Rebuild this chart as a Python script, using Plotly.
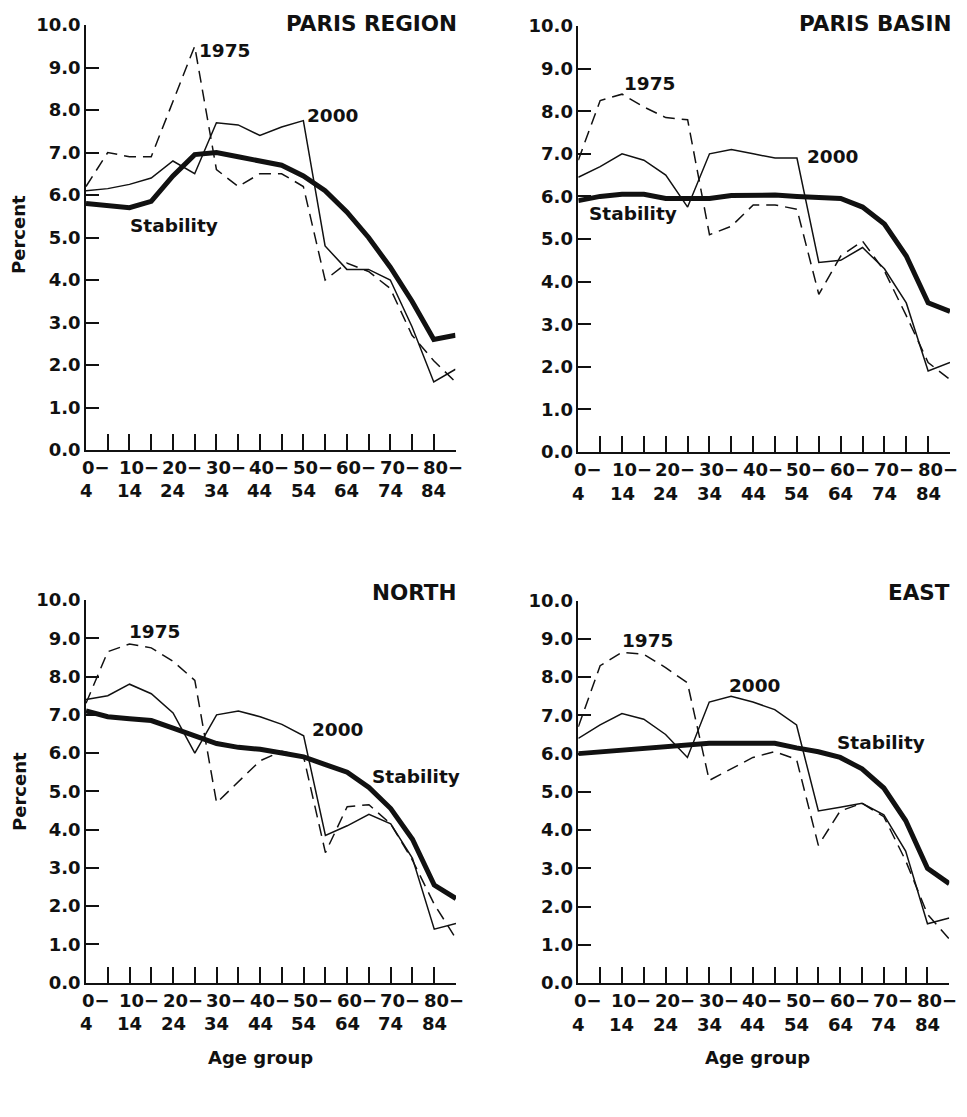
import plotly.graph_objects as go

# ---------------- data ----------------
age_index = list(range(18))  # 0-4, 5-9, ..., 80-84, 85+
age_top = ["0−", "10−", "20−", "30−", "40−", "50−", "60−", "70−", "80−"]
age_bottom = ["4", "14", "24", "34", "44", "54", "64", "74", "84"]
age_label_pos = [0, 2, 4, 6, 8, 10, 12, 14, 16]
y_ticks = [0, 1, 2, 3, 4, 5, 6, 7, 8, 9, 10]
y_tick_labels = ["0.0", "1.0", "2.0", "3.0", "4.0", "5.0", "6.0", "7.0", "8.0", "9.0", "10.0"]

regions = ["PARIS REGION", "PARIS BASIN", "NORTH", "EAST"]

paris_region_1975 = [6.2, 7.0, 6.9, 6.9, 8.2, 9.5, 6.6, 6.2, 6.5, 6.5, 6.2, 4.0, 4.4, 4.2, 3.8, 2.7, 2.1, 1.6]
paris_region_2000 = [6.1, 6.15, 6.25, 6.4, 6.8, 6.5, 7.7, 7.65, 7.4, 7.6, 7.75, 4.8, 4.25, 4.25, 4.0, 2.9, 1.6, 1.9]
paris_region_stab = [5.8, 5.75, 5.7, 5.85, 6.45, 6.95, 7.0, 6.9, 6.8, 6.7, 6.45, 6.1, 5.6, 5.0, 4.3, 3.5, 2.6, 2.7]

paris_basin_1975 = [6.85, 8.25, 8.4, 8.1, 7.85, 7.8, 5.1, 5.3, 5.8, 5.8, 5.7, 3.7, 4.6, 4.95, 4.25, 3.2, 2.1, 1.7]
paris_basin_2000 = [6.45, 6.7, 7.0, 6.85, 6.5, 5.75, 7.0, 7.1, 7.0, 6.9, 6.9, 4.45, 4.5, 4.8, 4.3, 3.5, 1.9, 2.1]
paris_basin_stab = [5.9, 6.0, 6.05, 6.05, 5.95, 5.95, 5.95, 6.02, 6.03, 6.03, 6.0, 5.97, 5.95, 5.75, 5.35, 4.6, 3.5, 3.3]

north_1975 = [7.3, 8.65, 8.85, 8.75, 8.4, 7.9, 4.7, 5.25, 5.8, 6.05, 5.9, 3.4, 4.6, 4.65, 4.15, 3.2, 2.05, 1.15]
north_2000 = [7.4, 7.5, 7.8, 7.55, 7.05, 6.0, 7.0, 7.1, 6.95, 6.75, 6.45, 3.85, 4.1, 4.4, 4.15, 3.25, 1.4, 1.55]
north_stab = [7.1, 6.95, 6.9, 6.85, 6.65, 6.45, 6.25, 6.15, 6.1, 6.0, 5.9, 5.7, 5.5, 5.1, 4.55, 3.75, 2.55, 2.2]

east_1975 = [6.7, 8.3, 8.65, 8.6, 8.25, 7.85, 5.3, 5.6, 5.9, 6.05, 5.85, 3.6, 4.5, 4.7, 4.35, 3.2, 1.8, 1.15]
east_2000 = [6.4, 6.75, 7.05, 6.9, 6.5, 5.9, 7.35, 7.5, 7.35, 7.15, 6.75, 4.5, 4.6, 4.7, 4.4, 3.45, 1.55, 1.7]
east_stab = [6.0, 6.05, 6.1, 6.15, 6.2, 6.25, 6.27, 6.27, 6.27, 6.27, 6.15, 6.05, 5.9, 5.6, 5.1, 4.25, 3.0, 2.6]

series_1975 = [paris_region_1975, paris_basin_1975, north_1975, east_1975]
series_2000 = [paris_region_2000, paris_basin_2000, north_2000, east_2000]
series_stab = [paris_region_stab, paris_basin_stab, north_stab, east_stab]

# label placements (x index, y value) for series names in each panel
label_pos = [
    {"1975": (5.1, 9.41), "2000": (10.07, 7.87), "Stability": (1.93, 5.29)},
    {"1975": (2.0, 8.65), "2000": (10.37, 6.94), "Stability": (0.4, 5.59)},
    {"1975": (1.88, 9.18), "2000": (10.29, 6.62), "Stability": (13.05, 5.40)},
    {"1975": (1.91, 8.96), "2000": (6.82, 7.79), "Stability": (11.77, 6.29)},
]

# ---------------- layout geometry ----------------
W, H = 967, 1117
OFF = 8  # page body margin compensation
# (left px, right px, top px, bottom px) of each plotting area, in page pixels
boxes = [
    (86, 455.5, 25, 450),
    (578.3, 950, 26, 452),
    (86, 456, 600, 982.7),
    (578.3, 949.3, 600.7, 983),
]


def px_x(p):
    return (p - OFF) / W


def px_y(p):
    return 1 - (p - OFF) / H


FONT = "DejaVu Sans"
INK = "#111111"
TICK_SIZE = 18

fig = go.Figure()
layout = dict(
    width=W, height=H,
    margin=dict(l=0, r=0, t=0, b=0, autoexpand=False),
    paper_bgcolor="white", plot_bgcolor="white",
    showlegend=False,
    font=dict(family=FONT, color=INK),
)
annotations = []

for i in range(4):
    n = "" if i == 0 else str(i + 1)
    xa, ya = "x" + n, "y" + n
    l, r, t, b = boxes[i]
    layout["xaxis" + n] = dict(
        domain=[px_x(l), px_x(r)], anchor=ya, range=[0, 17],
        showline=True, linecolor=INK, linewidth=1.5,
        ticks="inside", ticklen=16, tickwidth=1.5, tickcolor=INK,
        tickvals=age_index, showticklabels=False, automargin=False,
        showgrid=False, zeroline=False, fixedrange=True,
    )
    layout["yaxis" + n] = dict(
        domain=[px_y(b), px_y(t)], anchor=xa, range=[0, 10],
        showline=True, linecolor=INK, linewidth=1.5,
        ticks="inside", ticklen=13, tickwidth=1.5, tickcolor=INK,
        tickvals=y_ticks, ticktext=y_tick_labels, automargin=False,
        tickfont=dict(family=FONT, size=TICK_SIZE, color=INK, weight="bold"),
        showgrid=False, zeroline=False, fixedrange=True,
    )

    fig.add_trace(go.Scatter(x=age_index, y=series_1975[i], mode="lines", xaxis=xa, yaxis=ya,
                             line=dict(color=INK, width=1.5, dash="12px,7px")))
    fig.add_trace(go.Scatter(x=age_index, y=series_2000[i], mode="lines", xaxis=xa, yaxis=ya,
                             line=dict(color=INK, width=1.5)))
    fig.add_trace(go.Scatter(x=age_index, y=series_stab[i], mode="lines", xaxis=xa, yaxis=ya,
                             line=dict(color=INK, width=5)))

    # region title
    title_font = dict(family=FONT, size=21.5, color=INK, weight="bold")
    if i < 2:
        annotations.append(dict(text=regions[i], xref=xa + " domain", yref="paper",
                                x=1, y=1, xanchor="right", yanchor="top", xshift=3, yshift=-0.5,
                                showarrow=False, font=title_font))
    else:
        annotations.append(dict(text=regions[i], xref=xa + " domain", yref=ya + " domain",
                                x=1, y=1, xanchor="right", yanchor="middle", xshift=3, yshift=8,
                                showarrow=False, font=title_font))
    # series labels
    for name, (lx, ly) in label_pos[i].items():
        annotations.append(dict(text=name, xref=xa, yref=ya, x=lx, y=ly,
                                xanchor="left", yanchor="middle", showarrow=False,
                                font=dict(family=FONT, size=18.5, color=INK, weight="bold")))
    # x tick labels (two lines)
    for k, pos in enumerate(age_label_pos):
        top = age_top[k]
        ndig = len(top) - 1
        annotations.append(dict(text=top, xref=xa, yref=ya + " domain", x=pos, y=0,
                                xanchor="left", yanchor="middle",
                                xshift=-ndig * 0.696 * TICK_SIZE / 2, yshift=-17.5, showarrow=False,
                                font=dict(family=FONT, size=TICK_SIZE, color=INK, weight="bold")))
        annotations.append(dict(text=age_bottom[k], xref=xa, yref=ya + " domain", x=pos, y=0,
                                xanchor="center", yanchor="middle", yshift=-41, showarrow=False,
                                font=dict(family=FONT, size=TICK_SIZE, color=INK, weight="bold")))

# axis titles
for yc in (235, 792):
    annotations.append(dict(text="Percent", xref="paper", yref="paper", x=px_x(19), y=px_y(yc),
                            xanchor="center", yanchor="middle", textangle=-90, showarrow=False,
                            font=dict(family=FONT, size=18, color=INK, weight="bold")))
for xc in (260, 757):
    annotations.append(dict(text="Age group", xref="paper", yref="paper", x=px_x(xc), y=px_y(1057),
                            xanchor="center", yanchor="middle", showarrow=False,
                            font=dict(family=FONT, size=18, color=INK, weight="bold")))

layout["annotations"] = annotations
fig.update_layout(**layout)
fig.write_html("out.html")
